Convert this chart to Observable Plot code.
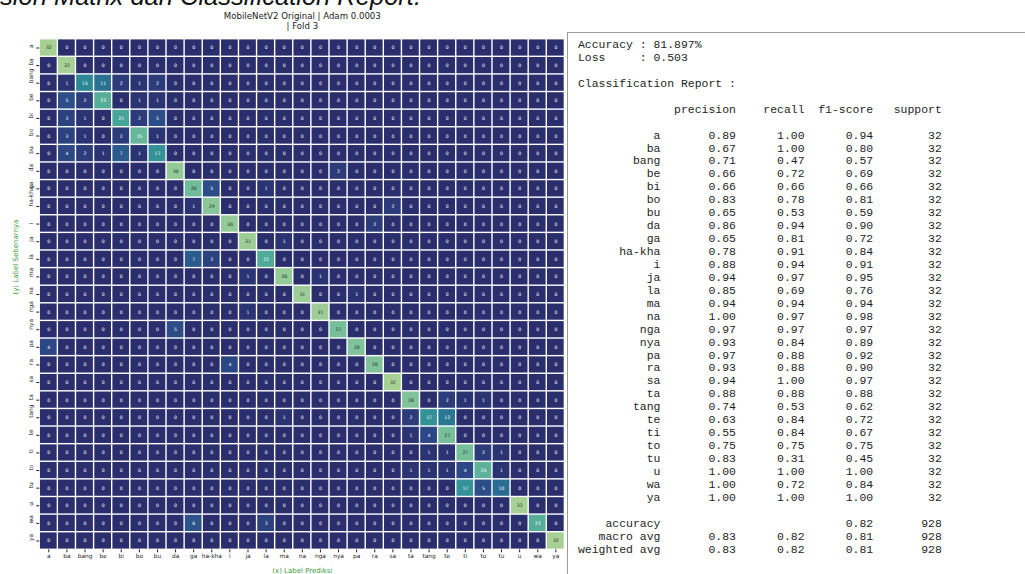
<!DOCTYPE html>
<html>
<head>
<meta charset="utf-8">
<script src="https://cdn.jsdelivr.net/npm/d3@7"></script>
<script src="https://cdn.jsdelivr.net/npm/@observablehq/plot@0.6"></script>
<style>
  html, body { margin: 0; padding: 0; background: #fff; }
  #wrap { position: relative; width: 1025px; height: 574px; overflow: hidden; background: #fff; }
  #title { position: absolute; left: -68px; top: -16px; font: italic 25.5px/25.5px "Liberation Sans", Arial, sans-serif; color: #111; white-space: nowrap; }
  #chart { position: absolute; left: 0; top: 0; }
  #box { position: absolute; left: 567px; top: 32px; width: 470px; height: 560px; border-left: 1px solid #9a9a9a; border-top: 1px solid #9a9a9a; }
  #report { position: absolute; left: 578px; top: 39px; margin: 0; font: 11.45px/12.93px "Liberation Mono", "Courier New", monospace; color: #1e1e1e; white-space: pre; }
</style>
</head>
<body>
<div id="wrap">
  <div id="title">Confusion Matrix dan Classification Report.</div>
  <div id="chart"></div>
  <div id="box"></div>
  <pre id="report"></pre>
</div>
<script>
// ---- Data ----
const labels = ["a","ba","bang","be","bi","bo","bu","da","ga","ha-kha","i","ja","la","ma","na","nga","nya","pa","ra","sa","ta","tang","te","ti","to","tu","u","wa","ya"];

// confusion matrix: rows = true label, columns = predicted label
const matrix = [
  [32,0,0,0,0,0,0,0,0,0,0,0,0,0,0,0,0,0,0,0,0,0,0,0,0,0,0,0,0], // a
  [0,32,0,0,0,0,0,0,0,0,0,0,0,0,0,0,0,0,0,0,0,0,0,0,0,0,0,0,0], // ba
  [0,1,15,11,2,1,2,0,0,0,0,0,0,0,0,0,0,0,0,0,0,0,0,0,0,0,0,0,0], // bang
  [0,5,2,23,0,1,1,0,0,0,0,0,0,0,0,0,0,0,0,0,0,0,0,0,0,0,0,0,0], // be
  [0,3,1,0,21,2,5,0,0,0,0,0,0,0,0,0,0,0,0,0,0,0,0,0,0,0,0,0,0], // bi
  [0,3,1,0,2,25,1,0,0,0,0,0,0,0,0,0,0,0,0,0,0,0,0,0,0,0,0,0,0], // bo
  [0,4,2,1,7,1,17,0,0,0,0,0,0,0,0,0,0,0,0,0,0,0,0,0,0,0,0,0,0], // bu
  [0,0,0,0,0,0,0,30,0,0,0,0,0,0,0,0,2,0,0,0,0,0,0,0,0,0,0,0,0], // da
  [0,0,0,0,0,0,0,0,26,5,0,0,1,0,0,0,0,0,0,0,0,0,0,0,0,0,0,0,0], // ga
  [0,0,0,0,0,0,0,0,1,29,0,0,0,0,0,0,0,0,0,2,0,0,0,0,0,0,0,0,0], // ha-kha
  [0,0,0,0,0,0,0,0,0,0,30,0,0,0,0,0,0,0,2,0,0,0,0,0,0,0,0,0,0], // i
  [0,0,0,0,0,0,0,0,0,0,0,31,0,1,0,0,0,0,0,0,0,0,0,0,0,0,0,0,0], // ja
  [0,0,0,0,0,0,0,0,7,3,0,0,22,0,0,0,0,0,0,0,0,0,0,0,0,0,0,0,0], // la
  [0,0,0,0,0,0,0,0,0,0,0,1,0,30,0,1,0,0,0,0,0,0,0,0,0,0,0,0,0], // ma
  [0,0,0,0,0,0,0,0,0,0,0,0,0,0,31,0,0,1,0,0,0,0,0,0,0,0,0,0,0], // na
  [0,0,0,0,0,0,0,0,0,0,0,1,0,0,0,31,0,0,0,0,0,0,0,0,0,0,0,0,0], // nga
  [0,0,0,0,0,0,0,5,0,0,0,0,0,0,0,0,27,0,0,0,0,0,0,0,0,0,0,0,0], // nya
  [4,0,0,0,0,0,0,0,0,0,0,0,0,0,0,0,0,28,0,0,0,0,0,0,0,0,0,0,0], // pa
  [0,0,0,0,0,0,0,0,0,0,4,0,0,0,0,0,0,0,28,0,0,0,0,0,0,0,0,0,0], // ra
  [0,0,0,0,0,0,0,0,0,0,0,0,0,0,0,0,0,0,0,32,0,0,0,0,0,0,0,0,0], // sa
  [0,0,0,0,0,0,0,0,0,0,0,0,0,0,0,0,0,0,0,0,28,0,2,1,1,0,0,0,0], // ta
  [0,0,0,0,0,0,0,0,0,0,0,0,0,1,0,0,0,0,0,0,2,17,12,0,0,0,0,0,0], // tang
  [0,0,0,0,0,0,0,0,0,0,0,0,0,0,0,0,0,0,0,0,1,4,27,0,0,0,0,0,0], // te
  [0,0,0,0,0,0,0,0,0,0,0,0,0,0,0,0,0,0,0,0,0,1,1,27,2,1,0,0,0], // ti
  [0,0,0,0,0,0,0,0,0,0,0,0,0,0,0,0,0,0,0,0,1,1,1,4,24,1,0,0,0], // to
  [0,0,0,0,0,0,0,0,0,0,0,0,0,0,0,0,0,0,0,0,0,0,0,17,5,10,0,0,0], // tu
  [0,0,0,0,0,0,0,0,0,0,0,0,0,0,0,0,0,0,0,0,0,0,0,0,0,0,32,0,0], // u
  [0,0,0,0,0,0,0,0,6,0,0,0,3,0,0,0,0,0,0,0,0,0,0,0,0,0,0,23,0], // wa
  [0,0,0,0,0,0,0,0,0,0,0,0,0,0,0,0,0,0,0,0,0,0,0,0,0,0,0,0,32]  // ya
];

const precision = [0.89,0.67,0.71,0.66,0.66,0.83,0.65,0.86,0.65,0.78,0.88,0.94,0.85,0.94,1.00,0.97,0.93,0.97,0.93,0.94,0.88,0.74,0.63,0.55,0.75,0.83,1.00,1.00,1.00];
const recall    = [1.00,1.00,0.47,0.72,0.66,0.78,0.53,0.94,0.81,0.91,0.94,0.97,0.69,0.94,0.97,0.97,0.84,0.88,0.88,1.00,0.88,0.53,0.84,0.84,0.75,0.31,1.00,0.72,1.00];
const f1score   = [0.94,0.80,0.57,0.69,0.66,0.81,0.59,0.90,0.72,0.84,0.91,0.95,0.76,0.94,0.98,0.97,0.89,0.92,0.90,0.97,0.88,0.62,0.72,0.67,0.75,0.45,1.00,0.84,1.00];
const support   = [32,32,32,32,32,32,32,32,32,32,32,32,32,32,32,32,32,32,32,32,32,32,32,32,32,32,32,32,32];

const summaryLabels = ["accuracy", "macro avg", "weighted avg"];
const summaryPrecision = [null, 0.83, 0.83];
const summaryRecall = [null, 0.82, 0.82];
const summaryF1 = [0.82, 0.81, 0.81];
const summarySupport = [928, 928, 928];

const accuracyText = "81.897%";
const lossText = "0.503";

const subtitle = "MobileNetV2 Original | Adam 0.0003\n| Fold 3";
const yLabel = "(y) Label Sebenarnya";
const xLabel = "(x) Label Prediksi";

// ---- Styles ----
const colorStops = [0, 4, 8, 12, 16, 20, 24, 28, 32];
const colorRange = ["#2b2e6d", "#2c4785", "#2b608f", "#2a7794", "#2e8d97", "#40a199", "#5db299", "#80c39a", "#a6d094"];
const green = "#3a9e3a";

// ---- Build table ----
const cells = [];
matrix.forEach((row, i) => row.forEach((v, j) => cells.push({truth: labels[i], pred: labels[j], value: v})));

const colorOf = d3.scaleLinear().domain(colorStops).range(colorRange);
function lum(c) {
  const rgb = d3.rgb(c);
  const f = (u) => { u /= 255; return u <= 0.03928 ? u / 12.92 : Math.pow((u + 0.055) / 1.055, 2.4); };
  return 0.2126 * f(rgb.r) + 0.7152 * f(rgb.g) + 0.0722 * f(rgb.b);
}
const darkText = cells.filter(d => lum(colorOf(d.value)) > 0.408);
const lightText = cells.filter(d => lum(colorOf(d.value)) <= 0.408);

const chart = Plot.plot({
  width: 567,
  height: 574,
  marginLeft: 39.25,
  marginRight: 2.6,
  marginTop: 38.7,
  marginBottom: 24.7,
  style: {background: "transparent", fontFamily: "'DejaVu Sans', sans-serif"},
  x: {domain: labels, padding: 0, round: false},
  y: {domain: labels, padding: 0, round: false},
  color: {type: "linear", domain: colorStops, range: colorRange},
  marks: [
    Plot.cell(cells, {x: "pred", y: "truth", fill: "value", inset: 0.7}),
    Plot.text(lightText, {x: "pred", y: "truth", text: d => String(d.value), fontSize: 4.6, fill: "#ffffff"}),
    Plot.text(darkText, {x: "pred", y: "truth", text: d => String(d.value), fontSize: 4.6, fill: "#262626"}),
    Plot.axisX({tickSize: 3, tickPadding: 1.5, fontSize: 5.8, color: "#222", label: null}),
    Plot.axisY({tickSize: 3, tickFormat: () => "", color: "#222", label: null}),
    Plot.text(labels, {y: d => d, frameAnchor: "left", dx: -8.25, rotate: -90, fontSize: 5.8, fill: "#222"}),
    Plot.text([yLabel], {frameAnchor: "left", dx: -24.25, rotate: -90, fontSize: 7, fill: green}),
    Plot.text([xLabel], {frameAnchor: "bottom", dy: 22.7, fontSize: 7, fill: green}),
    Plot.text([subtitle], {frameAnchor: "top", dy: -27.5, fontSize: 8.6, lineHeight: 1.16, fill: "#222"})
  ]
});
document.getElementById("chart").appendChild(chart);

// ---- Classification report text ----
const W = 12;
const pad = (s, n) => String(s).padStart(n);
const f2 = v => v == null ? "" : v.toFixed(2);
const lines = [];
lines.push("Accuracy : " + accuracyText);
lines.push("Loss     : " + lossText);
lines.push("");
lines.push("Classification Report :");
lines.push("");
lines.push(pad("", W) + " " + " " + pad("precision", 9) + " " + pad("recall", 9) + " " + pad("f1-score", 9) + " " + pad("support", 9));
lines.push("");
labels.forEach((lab, i) => {
  lines.push(pad(lab, W) + " " + " " + pad(f2(precision[i]), 9) + " " + pad(f2(recall[i]), 9) + " " + pad(f2(f1score[i]), 9) + " " + pad(support[i], 9));
});
lines.push("");
summaryLabels.forEach((lab, i) => {
  lines.push(pad(lab, W) + " " + " " + pad(f2(summaryPrecision[i]), 9) + " " + pad(f2(summaryRecall[i]), 9) + " " + pad(f2(summaryF1[i]), 9) + " " + pad(summarySupport[i], 9));
});
document.getElementById("report").textContent = lines.join("\n");
</script>
</body>
</html>
